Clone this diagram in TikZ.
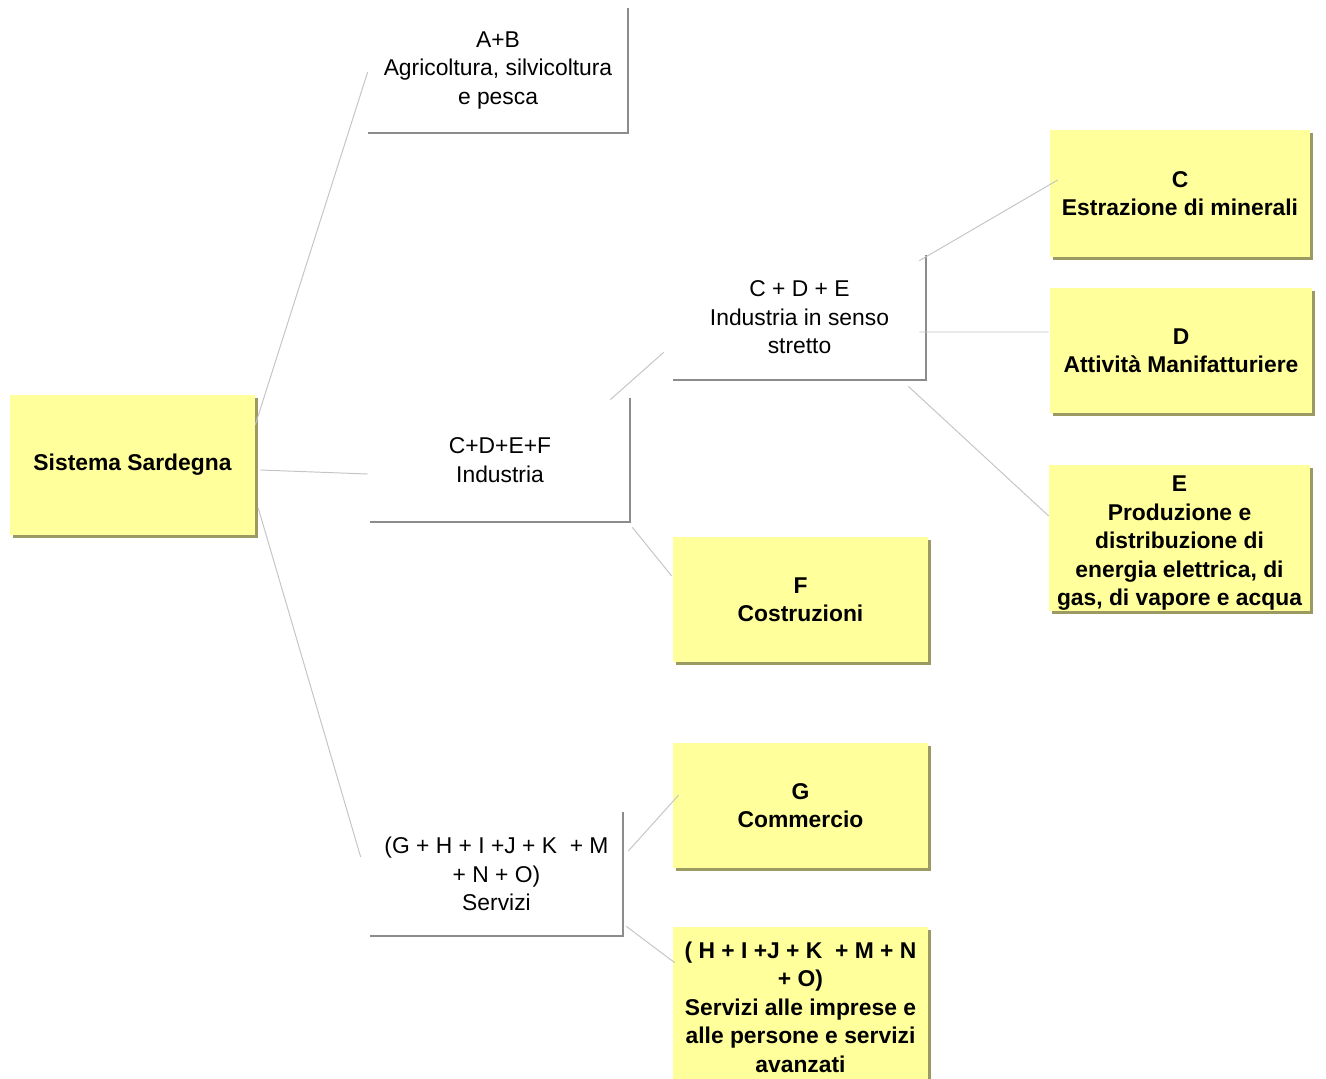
\documentclass[tikz,border=0pt]{standalone}
\usepackage{fontspec}
\setmainfont{Liberation Sans}
\usetikzlibrary{shadows}
\definecolor{paleyellow}{HTML}{FFFF9C}
\definecolor{olivedrop}{HTML}{9C9A63}
\definecolor{framegray}{HTML}{8C8C8C}
\definecolor{linkgray}{HTML}{C4C4C4}
\begin{document}
\begin{tikzpicture}
		[	x=0.02cm,y=-0.02cm,
		sect/.style={rectangle,draw=none,fill=paleyellow,minimum width=5.1cm,minimum height=2.5cm,
			inner sep=0pt,align=center,font=\fontsize{13}{16.2}\selectfont\bfseries,
			drop shadow={shadow xshift=0.06cm,shadow yshift=-0.06cm,fill=olivedrop,opacity=1}},
		group/.style={rectangle,draw=none,fill=none,minimum width=5.2cm,minimum height=2.5cm,
			inner sep=0pt,align=center,font=\fontsize{13}{16.2}\selectfont},
		frame/.style={draw=framegray,line width=1.1pt},
		link/.style={draw=linkgray,line width=0.55pt}
		]
		\useasboundingbox (0,0) rectangle (1326,1079);

		\node[sect,minimum width=4.9cm,minimum height=2.8cm] (sis) at (132.5,465){Sistema Sardegna};

		\node[group] (ab) at (498,70.5){A+B\\Agricoltura, silvicoltura\\e pesca};
		\node[group,minimum height=2.48cm] (ind) at (500,460){C+D+E+F\\Industria};
		\node[group,minimum width=5.06cm,minimum height=2.48cm] (serv) at (496.5,874){(G + H + I +J + K\ \ + M\\+ N + O)\\Servizi};
		\node[group,minimum width=5.06cm] (cde) at (799.5,317.5){C + D + E\\Industria in senso\\stretto};

		\node[sect,minimum width=5.2cm,minimum height=2.54cm] (c) at (1180,193.5){C\\Estrazione di minerali};
		\node[sect,minimum width=5.24cm] (d) at (1181,350.5){D\\Attività Manifatturiere};
		\node[sect,minimum width=5.22cm,minimum height=2.88cm] (e) at (1179.5,538){\rule{0pt}{15pt}E\\Produzione e\\distribuzione di\\energia elettrica, di\\gas, di vapore e acqua};
		\node[sect] (f) at (800.5,599.5){F\\Costruzioni};
		\node[sect] (g) at (800.5,805.5){G\\Commercio};
		\node[sect,minimum height=3.2cm] (h) at (800.5,1007){( H + I +J + K\ \ + M + N\\+ O)\\Servizi alle imprese e\\alle persone e servizi\\avanzati};

		% right and bottom edges of the groups
		\foreach \n in {ab,ind,serv,cde}
			\draw[frame] (\n.north east) -- (\n.south east) -- (\n.south west);

		% links
		\draw[link] ([shift={(0,30)}]sis.north east) -- ([shift={(0,1.5)}]ab.west);
		\draw[link] ([shift={(5,5)}]sis.east) -- ([shift={(-2,14)}]ind.west);
		\draw[link] ([shift={(3,-27)}]sis.south east) -- ([shift={(-9,-17)}]serv.west);
		\draw[link] ([shift={(-20,2)}]ind.north east) -- ([shift={(-9,-28)}]cde.south west);
		\draw[link] ([shift={(2,5)}]ind.south east) -- ([shift={(-1,-23.5)}]f.west);
		\draw[link] ([shift={(-7,6)}]cde.north east) -- ([shift={(8,-13.5)}]c.west);
		\draw[link] ([shift={(-7,14.5)}]cde.east) -- ([shift={(-1,-18.5)}]d.west);
		\draw[link] ([shift={(-18,6)}]cde.south east) -- ([shift={(0,-22)}]e.west);
		\draw[link] ([shift={(5,-23)}]serv.east) -- ([shift={(6,-10.5)}]g.west);
		\draw[link] ([shift={(3,-10)}]serv.south east) -- ([shift={(2,36)}]h.north west);
	\end{tikzpicture}
\end{document}
